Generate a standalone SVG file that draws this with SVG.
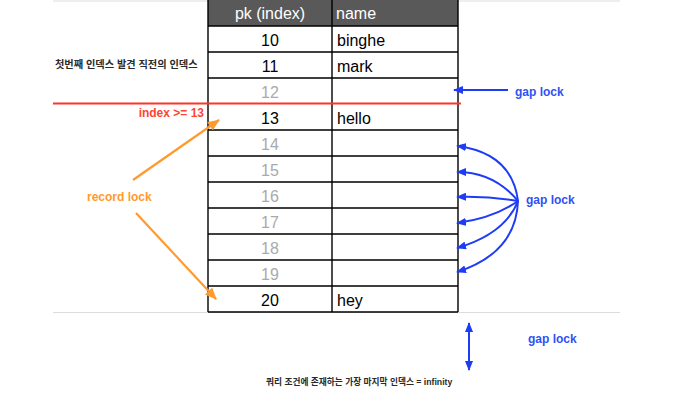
<svg xmlns="http://www.w3.org/2000/svg" width="673" height="411" viewBox="0 0 673 411">
<defs>
<style>
.t{font-family:"Liberation Sans",Arial,sans-serif;font-size:16px;fill:#000}
.hd{fill:#ffffff}
.g{fill:#aaaaaa}
.c{text-anchor:middle}
.grid{stroke:#000;stroke-width:1.4;fill:none}
.lbl{font-family:"Liberation Sans",Arial,sans-serif;font-weight:bold;font-size:12px}
.blue{fill:#3050f8}
.kr{font-family:"Liberation Sans","Noto Sans CJK KR",sans-serif;font-weight:bold;fill:#2a2a2a}
.ba{stroke:#1e3cf5;stroke-width:2;fill:none}
.oa{stroke:#ff9a2e;stroke-width:2.2;fill:none}
</style>
<marker id="bh" viewBox="0 0 10 8" refX="9" refY="4" markerWidth="10" markerHeight="8" markerUnits="userSpaceOnUse" orient="auto-start-reverse"><path d="M0,0 L10,4 L0,8 Z" fill="#1e3cf5"/></marker>
<marker id="oh" viewBox="0 0 12 10" refX="11" refY="5" markerWidth="12" markerHeight="10" markerUnits="userSpaceOnUse" orient="auto"><path d="M0,0 L12,5 L0,10 Z" fill="#ff9a2e"/></marker>
</defs>
<rect width="673" height="411" fill="#ffffff"/>
<g id="sheet-lines" stroke="#dcdcdc" stroke-width="1">
<line x1="53" y1="1" x2="620" y2="1"/>
<line x1="53" y1="312.5" x2="620" y2="312.5"/>
</g>
<g id="table">
<rect x="208" y="0" width="250" height="26" fill="#595959"/>
<text class="t hd c" x="270" y="19">pk (index)</text>
<text class="t hd" x="336" y="19">name</text>
<path class="grid" d="M208,0 V312 M332,0 V312 M458,0 V312 M208,26 H458 M208,52 H458 M208,78 H458 M208,130 H458 M208,156 H458 M208,182 H458 M208,208 H458 M208,234 H458 M208,260 H458 M208,286 H458 M208,312 H458"/>
<text class="t c" x="270" y="45.5">10</text><text class="t" x="337" y="45.5">binghe</text>
<text class="t c" x="270" y="71.5">11</text><text class="t" x="337" y="71.5">mark</text>
<text class="t g c" x="270" y="97.5">12</text>
<text class="t c" x="270" y="123.5">13</text><text class="t" x="337" y="123.5">hello</text>
<text class="t g c" x="270" y="149.5">14</text>
<text class="t g c" x="270" y="175.5">15</text>
<text class="t g c" x="270" y="201.5">16</text>
<text class="t g c" x="270" y="227.5">17</text>
<text class="t g c" x="270" y="253.5">18</text>
<text class="t g c" x="270" y="279.5">19</text>
<text class="t c" x="270" y="305.5">20</text><text class="t" x="337" y="305.5">hey</text>
</g>
<g id="boundary">
<line x1="53" y1="103.5" x2="461" y2="103.5" stroke="#ff3328" stroke-width="2"/>
<text class="lbl" x="204" y="117" text-anchor="end" fill="#ff4433">index &gt;= 13</text>
</g>
<g id="labels">
<text class="kr" x="55" y="68" font-size="10.2">첫번째 인덱스 발견 직전의 인덱스</text>
<text class="kr" x="266" y="384.5" font-size="8.7">쿼리 조건에 존재하는 가장 마지막 인덱스 = infinity</text>
<text class="lbl" x="87" y="201" fill="#ff9a2e">record lock</text>
<text class="lbl blue" x="515" y="96">gap lock</text>
<text class="lbl blue" x="526" y="204">gap lock</text>
<text class="lbl blue" x="528" y="343">gap lock</text>
</g>
<g id="connectors">
<line class="ba" x1="508" y1="90" x2="454" y2="90" marker-end="url(#bh)"/>
<path class="ba" d="M518,201 Q512,153 457,146" marker-end="url(#bh)"/>
<path class="ba" d="M518,201 Q494,172 457,172" marker-end="url(#bh)"/>
<path class="ba" d="M518,201 Q488,196 457,197" marker-end="url(#bh)"/>
<path class="ba" d="M518,201 Q494,218 457,223" marker-end="url(#bh)"/>
<path class="ba" d="M518,201 Q505,234 457,248" marker-end="url(#bh)"/>
<path class="ba" d="M518,201 Q516,253 457,272" marker-end="url(#bh)"/>
<line class="ba" x1="469" y1="323" x2="469" y2="370" stroke-width="1.6" marker-start="url(#bh)" marker-end="url(#bh)"/>
<line class="oa" x1="133" y1="180" x2="219" y2="120" marker-end="url(#oh)"/>
<line class="oa" x1="136" y1="213" x2="216" y2="299" marker-end="url(#oh)"/>
</g>
</svg>
